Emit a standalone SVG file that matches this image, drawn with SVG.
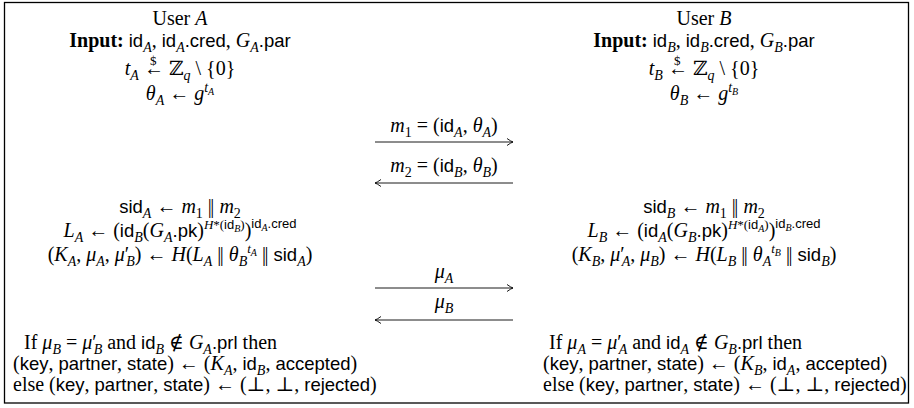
<svg xmlns="http://www.w3.org/2000/svg" width="914" height="408" viewBox="0 0 914 408">
<defs>
<style>
text{font-family:"Liberation Serif","DejaVu Serif",serif;font-size:20px;fill:#000}
.c{text-anchor:middle}
.i{font-style:italic}
.b{font-weight:bold}
.s{font-family:"Liberation Sans","DejaVu Sans",sans-serif;font-size:18.5px;font-style:normal}
.sb{font-size:14px}
.sp{font-size:13px}
.ss{font-size:10px}
.arr{stroke:#000;stroke-width:0.9;fill:none;marker-end:url(#ah)}
</style>
<marker id="ah" markerUnits="userSpaceOnUse" markerWidth="12" markerHeight="10" viewBox="-8 -5 10 10" refX="0" refY="0" orient="auto">
<path d="M-6,-3.5 Q-2,-0.6 0,0 Q-2,0.6 -6,3.5" fill="none" stroke="#000" stroke-width="0.9"/>
</marker>
</defs>
<rect x="4.5" y="2.5" width="904" height="400.5" fill="#fff" stroke="#000" stroke-width="1.3"/>

<g id="userA">
<text class="c" x="180" y="25">User <tspan class="i">A</tspan></text>
<text class="c" x="180" y="47"><tspan class="b">Input:</tspan> <tspan class="s">id</tspan><tspan class="i sb" dy="5">A</tspan><tspan dy="-5">, </tspan><tspan class="s">id</tspan><tspan class="i sb" dy="5">A</tspan><tspan class="s" dy="-5">.cred</tspan><tspan>, </tspan><tspan class="i">G</tspan><tspan class="i sb" dy="5">A</tspan><tspan class="s" dy="-5">.par</tspan></text>
<text class="c" x="180" y="75"><tspan class="i">t</tspan><tspan class="i sb" dy="5">A</tspan><tspan dy="-5"> ←</tspan><tspan class="sp" dx="-14" dy="-10">$</tspan><tspan dx="7.5" dy="10"> ℤ</tspan><tspan class="i sb" dy="5">q</tspan><tspan dy="-5"> \ {0}</tspan></text>
<text class="c" x="180" y="100"><tspan class="i">θ</tspan><tspan class="i sb" dy="5">A</tspan><tspan dy="-5"> ← </tspan><tspan class="i">g</tspan><tspan class="i sb" dy="-8">t</tspan><tspan class="i ss" dy="3">A</tspan></text>
<text class="c" x="180" y="213"><tspan class="s">sid</tspan><tspan class="i sb" dy="5">A</tspan><tspan dy="-5"> ← </tspan><tspan class="i">m</tspan><tspan class="sb" dy="5">1</tspan><tspan dy="-5"> |</tspan><tspan dx="-1.5">| </tspan><tspan class="i">m</tspan><tspan class="sb" dy="5">2</tspan></text>
<text class="c" x="180" y="237"><tspan class="i">L</tspan><tspan class="i sb" dy="5">A</tspan><tspan dy="-5"> ← (</tspan><tspan class="s">id</tspan><tspan class="i sb" dy="5">B</tspan><tspan dy="-5">(</tspan><tspan class="i">G</tspan><tspan class="i sb" dy="5">A</tspan><tspan class="s" dy="-5">.pk</tspan><tspan>)</tspan><tspan class="i sp" dy="-8">H</tspan><tspan class="sp">*(</tspan><tspan class="s sp">id</tspan><tspan class="i ss" dy="3">B</tspan><tspan class="sp" dy="-3">)</tspan><tspan dy="8">)</tspan><tspan class="s sp" dy="-9">id</tspan><tspan class="i ss" dy="3">A</tspan><tspan class="s sp" dy="-3">.cred</tspan></text>
<text class="c" x="180" y="261">(<tspan class="i">K</tspan><tspan class="i sb" dy="5">A</tspan><tspan dy="-5">, </tspan><tspan class="i">μ</tspan><tspan class="i sb" dy="5">A</tspan><tspan dy="-5">, </tspan><tspan class="i">μ</tspan><tspan>′</tspan><tspan class="i sb" dx="-3" dy="5">B</tspan><tspan dy="-5">) ← </tspan><tspan class="i">H</tspan><tspan>(</tspan><tspan class="i">L</tspan><tspan class="i sb" dy="5">A</tspan><tspan dy="-5"> |</tspan><tspan dx="-1.5">| </tspan><tspan class="i">θ</tspan><tspan class="i sb" dy="5">B</tspan><tspan class="i sp" dy="-13">t</tspan><tspan class="i ss" dy="3">A</tspan><tspan dy="5"> |</tspan><tspan dx="-1.5">| </tspan><tspan class="s">sid</tspan><tspan class="i sb" dy="5">A</tspan><tspan dy="-5">)</tspan></text>
<text x="24" y="349">If <tspan class="i">μ</tspan><tspan class="i sb" dy="5">B</tspan><tspan dy="-5"> = </tspan><tspan class="i">μ</tspan><tspan>′</tspan><tspan class="i sb" dx="-3" dy="5">B</tspan><tspan dy="-5"> and </tspan><tspan class="s">id</tspan><tspan class="i sb" dy="5">B</tspan><tspan dy="-5"> ∉ </tspan><tspan class="i">G</tspan><tspan class="i sb" dy="5">A</tspan><tspan class="s" dy="-5">.prl</tspan><tspan> then</tspan></text>
<text x="13" y="370">(<tspan class="s">key</tspan>, <tspan class="s">partner</tspan>, <tspan class="s">state</tspan>) ← (<tspan class="i">K</tspan><tspan class="i sb" dy="5">A</tspan><tspan dy="-5">, </tspan><tspan class="s">id</tspan><tspan class="i sb" dy="5">B</tspan><tspan dy="-5">, </tspan><tspan class="s">accepted</tspan>)</text>
<text x="13" y="391">else (<tspan class="s">key</tspan>, <tspan class="s">partner</tspan>, <tspan class="s">state</tspan>) ← (⊥, ⊥, <tspan class="s">rejected</tspan>)</text>
</g>

<g id="userB">
<text class="c" x="704" y="25">User <tspan class="i">B</tspan></text>
<text class="c" x="704" y="47"><tspan class="b">Input:</tspan> <tspan class="s">id</tspan><tspan class="i sb" dy="5">B</tspan><tspan dy="-5">, </tspan><tspan class="s">id</tspan><tspan class="i sb" dy="5">B</tspan><tspan class="s" dy="-5">.cred</tspan><tspan>, </tspan><tspan class="i">G</tspan><tspan class="i sb" dy="5">B</tspan><tspan class="s" dy="-5">.par</tspan></text>
<text class="c" x="704" y="75"><tspan class="i">t</tspan><tspan class="i sb" dy="5">B</tspan><tspan dy="-5"> ←</tspan><tspan class="sp" dx="-14" dy="-10">$</tspan><tspan dx="7.5" dy="10"> ℤ</tspan><tspan class="i sb" dy="5">q</tspan><tspan dy="-5"> \ {0}</tspan></text>
<text class="c" x="704" y="100"><tspan class="i">θ</tspan><tspan class="i sb" dy="5">B</tspan><tspan dy="-5"> ← </tspan><tspan class="i">g</tspan><tspan class="i sb" dy="-8">t</tspan><tspan class="i ss" dy="3">B</tspan></text>
<text class="c" x="704" y="213"><tspan class="s">sid</tspan><tspan class="i sb" dy="5">B</tspan><tspan dy="-5"> ← </tspan><tspan class="i">m</tspan><tspan class="sb" dy="5">1</tspan><tspan dy="-5"> |</tspan><tspan dx="-1.5">| </tspan><tspan class="i">m</tspan><tspan class="sb" dy="5">2</tspan></text>
<text class="c" x="704" y="237"><tspan class="i">L</tspan><tspan class="i sb" dy="5">B</tspan><tspan dy="-5"> ← (</tspan><tspan class="s">id</tspan><tspan class="i sb" dy="5">A</tspan><tspan dy="-5">(</tspan><tspan class="i">G</tspan><tspan class="i sb" dy="5">B</tspan><tspan class="s" dy="-5">.pk</tspan><tspan>)</tspan><tspan class="i sp" dy="-8">H</tspan><tspan class="sp">*(</tspan><tspan class="s sp">id</tspan><tspan class="i ss" dy="3">A</tspan><tspan class="sp" dy="-3">)</tspan><tspan dy="8">)</tspan><tspan class="s sp" dy="-9">id</tspan><tspan class="i ss" dy="3">B</tspan><tspan class="s sp" dy="-3">.cred</tspan></text>
<text class="c" x="704" y="261">(<tspan class="i">K</tspan><tspan class="i sb" dy="5">B</tspan><tspan dy="-5">, </tspan><tspan class="i">μ</tspan><tspan>′</tspan><tspan class="i sb" dx="-3" dy="5">A</tspan><tspan dy="-5">, </tspan><tspan class="i">μ</tspan><tspan class="i sb" dy="5">B</tspan><tspan dy="-5">) ← </tspan><tspan class="i">H</tspan><tspan>(</tspan><tspan class="i">L</tspan><tspan class="i sb" dy="5">B</tspan><tspan dy="-5"> |</tspan><tspan dx="-1.5">| </tspan><tspan class="i">θ</tspan><tspan class="i sb" dy="5">A</tspan><tspan class="i sp" dy="-13">t</tspan><tspan class="i ss" dy="3">B</tspan><tspan dy="5"> |</tspan><tspan dx="-1.5">| </tspan><tspan class="s">sid</tspan><tspan class="i sb" dy="5">B</tspan><tspan dy="-5">)</tspan></text>
<text x="549" y="349">If <tspan class="i">μ</tspan><tspan class="i sb" dy="5">A</tspan><tspan dy="-5"> = </tspan><tspan class="i">μ</tspan><tspan>′</tspan><tspan class="i sb" dx="-3" dy="5">A</tspan><tspan dy="-5"> and </tspan><tspan class="s">id</tspan><tspan class="i sb" dy="5">A</tspan><tspan dy="-5"> ∉ </tspan><tspan class="i">G</tspan><tspan class="i sb" dy="5">B</tspan><tspan class="s" dy="-5">.prl</tspan><tspan> then</tspan></text>
<text x="543" y="370">(<tspan class="s">key</tspan>, <tspan class="s">partner</tspan>, <tspan class="s">state</tspan>) ← (<tspan class="i">K</tspan><tspan class="i sb" dy="5">B</tspan><tspan dy="-5">, </tspan><tspan class="s">id</tspan><tspan class="i sb" dy="5">A</tspan><tspan dy="-5">, </tspan><tspan class="s">accepted</tspan>)</text>
<text x="543" y="391">else (<tspan class="s">key</tspan>, <tspan class="s">partner</tspan>, <tspan class="s">state</tspan>) ← (⊥, ⊥, <tspan class="s">rejected</tspan>)</text>
</g>

<g id="connectors">
<text class="c" x="444" y="132"><tspan class="i">m</tspan><tspan class="sb" dy="5">1</tspan><tspan dy="-5"> = (</tspan><tspan class="s">id</tspan><tspan class="i sb" dy="5">A</tspan><tspan dy="-5">, </tspan><tspan class="i">θ</tspan><tspan class="i sb" dy="5">A</tspan><tspan dy="-5">)</tspan></text>
<line class="arr" x1="375" y1="142" x2="513" y2="142"/>
<text class="c" x="444" y="172"><tspan class="i">m</tspan><tspan class="sb" dy="5">2</tspan><tspan dy="-5"> = (</tspan><tspan class="s">id</tspan><tspan class="i sb" dy="5">B</tspan><tspan dy="-5">, </tspan><tspan class="i">θ</tspan><tspan class="i sb" dy="5">B</tspan><tspan dy="-5">)</tspan></text>
<line class="arr" x1="513" y1="183" x2="375" y2="183"/>
<text class="c" x="444" y="278"><tspan class="i">μ</tspan><tspan class="i sb" dy="5">A</tspan></text>
<line class="arr" x1="375" y1="288" x2="513" y2="288"/>
<text class="c" x="444" y="308"><tspan class="i">μ</tspan><tspan class="i sb" dy="5">B</tspan></text>
<line class="arr" x1="513" y1="320" x2="375" y2="320"/>
</g>
</svg>
